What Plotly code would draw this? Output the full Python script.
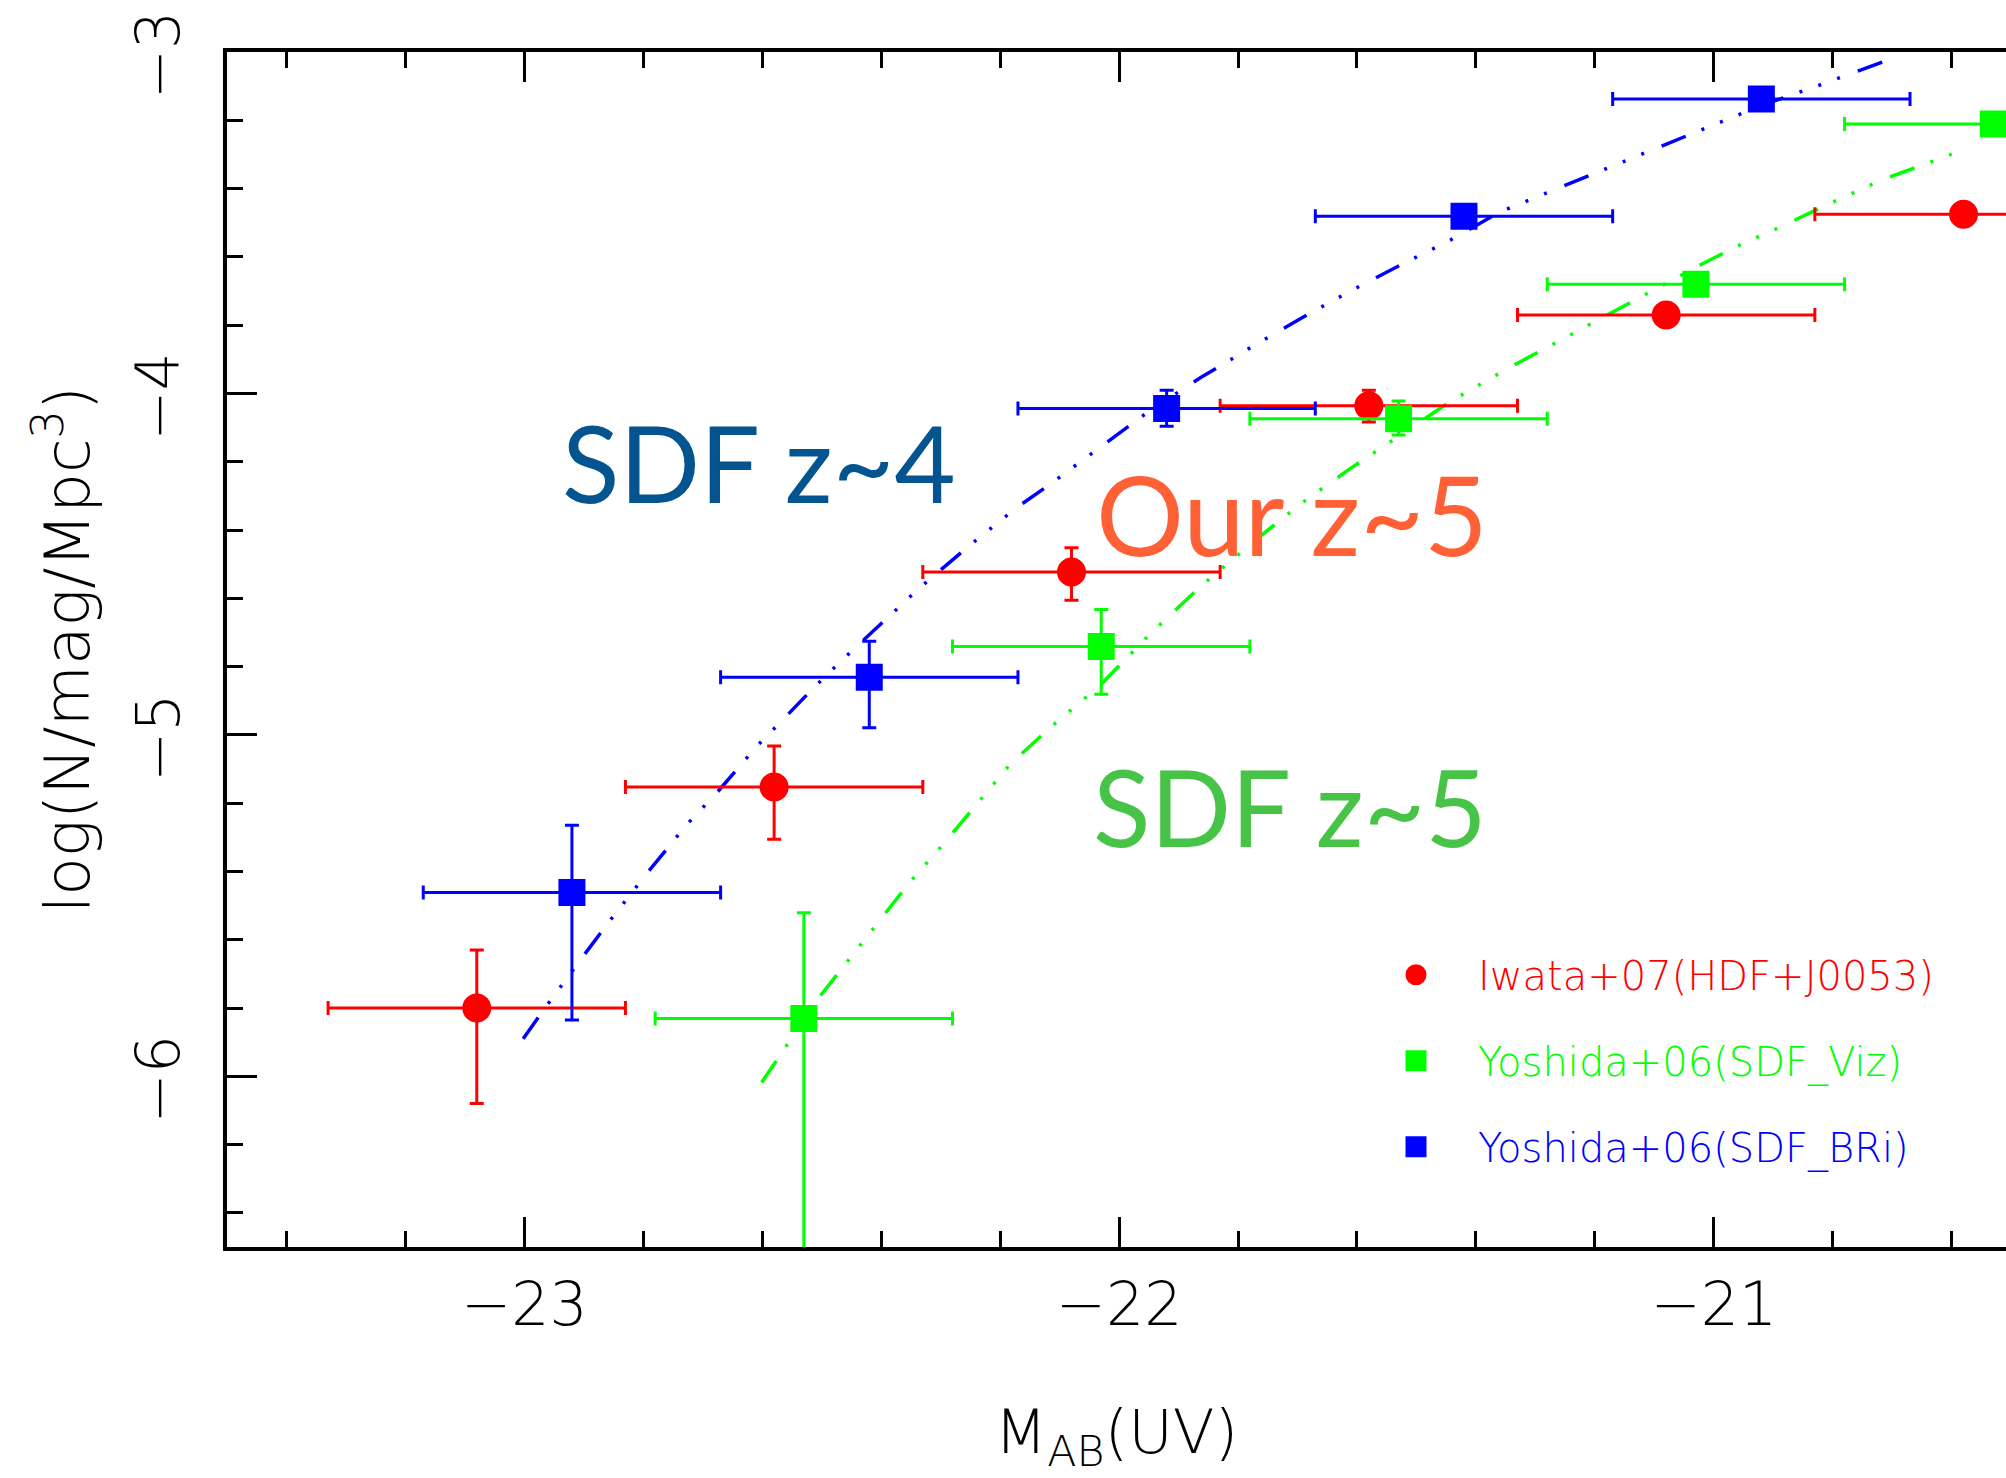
import plotly.graph_objects as go

# ---------------- data ----------------
# Iwata+07 (HDF + J0053), z~5 UV luminosity function
iwata_mag = [-23.08, -22.58, -22.08, -21.58, -21.08, -20.58]
iwata_phi = [-5.80, -5.153, -4.523, -4.036, -3.770, -3.475]
iwata_err_up = [0.17, 0.12, 0.071, 0.045, 0.03, 0.015]
iwata_err_dn = [0.28, 0.153, 0.083, 0.048, 0.03, 0.015]
iwata_bin = [0.25, 0.25, 0.25, 0.25, 0.25, 0.25]

# Yoshida+06, SDF V-dropouts (z~5)
viz_mag = [-22.53, -22.03, -21.53, -21.03, -20.53]
viz_phi = [-5.831, -4.741, -4.074, -3.680, -3.211]
viz_err_up = [0.31, 0.108, 0.052, 0.03, 0.02]
viz_err_dn = [1.2, 0.14, 0.048, 0.03, 0.02]
viz_bin = [0.25, 0.25, 0.25, 0.25, 0.25]

# Yoshida+06, SDF B-dropouts (z~4)
bri_mag = [-22.92, -22.42, -21.92, -21.42, -20.92]
bri_phi = [-5.462, -4.831, -4.044, -3.481, -3.138]
bri_err_up = [0.197, 0.105, 0.053, 0.02, 0.01]
bri_err_dn = [0.373, 0.148, 0.052, 0.02, 0.01]
bri_bin = [0.25, 0.25, 0.25, 0.25, 0.25]

# Schechter fit, SDF z~4
fit4_mag = [-23.002, -22.962, -22.901, -22.856, -22.794, -22.727, -22.677,
            -22.609, -22.565, -22.514, -22.464, -22.413, -22.335, -22.256,
            -22.172, -22.116, -22.032, -21.948, -21.864, -21.780, -21.696,
            -21.612, -21.528, -21.443, -21.359, -21.023, -20.922, -20.827,
            -20.732, -20.695]
fit4_phi = [-5.890, -5.792, -5.648, -5.544, -5.406, -5.263, -5.171,
            -5.033, -4.955, -4.863, -4.778, -4.694, -4.569, -4.452,
            -4.334, -4.266, -4.158, -4.050, -3.955, -3.867, -3.782,
            -3.701, -3.625, -3.551, -3.468, -3.229, -3.158, -3.100,
            -3.038, -3.016]

# Schechter fit, SDF z~5
fit5_mag = [-22.601, -22.559, -22.503, -22.447, -22.396, -22.352, -22.296,
            -22.239, -22.183, -22.116, -22.032, -21.948, -21.864, -21.780,
            -21.696, -21.612, -21.528, -21.443, -21.359, -21.023, -20.956,
            -20.894, -20.799, -20.718, -20.636, -20.600]
fit5_phi = [-6.018, -5.910, -5.766, -5.642, -5.531, -5.432, -5.321,
            -5.204, -5.086, -4.979, -4.855, -4.705, -4.567, -4.443,
            -4.325, -4.221, -4.122, -4.024, -3.939, -3.624, -3.565,
            -3.517, -3.439, -3.375, -3.323, -3.299]

# ---------------- styling ----------------
RED, GREEN, BLUE = "#ff0000", "#00ff00", "#0000ff"
AXIS_FONT = "'DejaVu Sans', 'Liberation Sans', sans-serif"
LABEL_FONT = "Lato, 'Open Sans', sans-serif"
FIT_DASH = "26px,17px,3px,17px,3px,17px,3px,19px"

fig = go.Figure()

fig.add_trace(go.Scatter(x=fit4_mag, y=fit4_phi, mode="lines",
                         line=dict(color=BLUE, width=3.5, dash=FIT_DASH),
                         showlegend=False, hoverinfo="skip"))
fig.add_trace(go.Scatter(x=fit5_mag, y=fit5_phi, mode="lines",
                         line=dict(color=GREEN, width=3.5, dash=FIT_DASH),
                         showlegend=False, hoverinfo="skip"))


def points(mag, phi, up, dn, xbin, color, symbol, size, name, group):
    return go.Scatter(
        x=mag, y=phi, mode="markers",
        name=f'<span style="color:{color}">{name}</span>',
        legendgroup=group,
        marker=dict(color=color, symbol=symbol, size=size,
                    line=dict(color=color, width=5)),
        error_x=dict(type="data", array=xbin, color=color,
                     thickness=3, width=7),
        error_y=dict(type="data", symmetric=False, array=up, arrayminus=dn,
                     color=color, thickness=3, width=7),
    )


fig.add_trace(points(iwata_mag, iwata_phi, iwata_err_up, iwata_err_dn,
                     iwata_bin, RED, "circle", 24,
                     "Iwata+07(HDF+J0053)", "g1"))
fig.add_trace(points(viz_mag, viz_phi, viz_err_up, viz_err_dn,
                     viz_bin, GREEN, "square", 22,
                     "Yoshida+06(SDF_Viz)", "g2"))
fig.add_trace(points(bri_mag, bri_phi, bri_err_up, bri_err_dn,
                     bri_bin, BLUE, "square", 22,
                     "Yoshida+06(SDF_BRi)", "g3"))

# sample labels
labels = [
    ("SDF z~4", -22.605, -4.20, "#04558f", 106),
    ("Our z~5", -21.710, -4.35, "#ff6035", 110),
    ("SDF z~5", -21.712, -5.209, "#47c447", 106),
]
for text, lx, ly, col, fs in labels:
    fig.add_annotation(x=lx, y=ly, xref="x", yref="y", text=text,
                       showarrow=False, xanchor="center", yanchor="middle",
                       font=dict(family=LABEL_FONT, size=fs, color=col))

axis_common = dict(
    showline=True, linecolor="black", linewidth=3.5,
    ticks="inside", ticklen=30, tickwidth=2.5, tickcolor="black",
    showgrid=False, zeroline=False, dtick=1, tick0=0,
    ticklabeloverflow="allow", automargin=False,
    minor=dict(dtick=0.2, ticks="inside", ticklen=16, tickwidth=2.5,
               tickcolor="black", showgrid=False),
    tickfont=dict(family=AXIS_FONT, size=60, color="black", weight=200),
)

fig.update_layout(
    width=2006, height=1478,
    margin=dict(l=227, r=0, t=52, b=231),
    paper_bgcolor="white", plot_bgcolor="white",
    xaxis=dict(range=[-23.5, -20.5086], mirror="ticks",
               ticklabelstandoff=2,
               title=dict(text="M<sub>AB</sub>(UV)", standoff=74,
                          font=dict(family=AXIS_FONT, size=61,
                                    color="black", weight=200)),
               **axis_common),
    yaxis=dict(range=[-6.5, -3], tickangle=-90, ticklabelstandoff=20,
               ticklabelshift=12,
               title=dict(text="log(N/mag/Mpc<sup>3</sup>)", standoff=14,
                          font=dict(family=AXIS_FONT, size=63,
                                    color="black", weight=200)),
               **axis_common),
    yaxis2=dict(range=[-6.5, -3], overlaying="y", side="right", anchor="x",
                showline=False, ticks="inside", ticklen=30, tickwidth=2.5,
                tickcolor="black", showticklabels=False, showgrid=False,
                zeroline=False, dtick=1, tick0=0, automargin=False,
                minor=dict(dtick=0.2, ticks="inside", ticklen=16,
                           tickwidth=2.5, tickcolor="black", showgrid=False)),
    showlegend=True,
    legend=dict(x=0.6335, y=0.255, xanchor="left", yanchor="top",
                bgcolor="rgba(0,0,0,0)", itemwidth=114, tracegroupgap=31,
                font=dict(family=AXIS_FONT, size=40, weight=200)),
)

fig.write_html("out.html")
